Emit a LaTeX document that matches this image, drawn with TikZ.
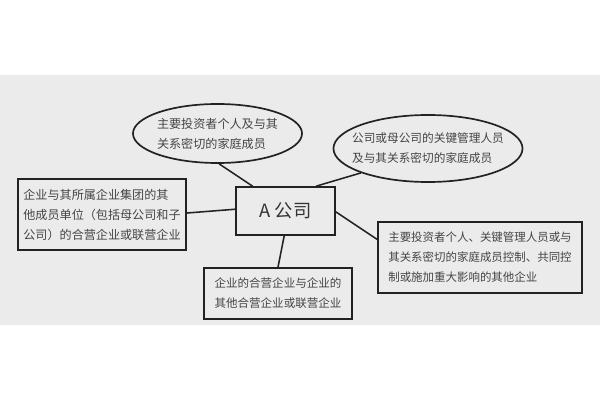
\documentclass[tikz,border=0pt]{standalone}
\usepackage{fontspec}
\usepackage{xcolor}
\usetikzlibrary{shapes.geometric}
\setmainfont{Noto Sans CJK SC}
\definecolor{bandgray}{HTML}{EBEBEB}
\definecolor{inkgray}{HTML}{444444}
\definecolor{linegray}{HTML}{222222}

\begin{document}
\begin{tikzpicture}[x=0.025cm,y=-0.025cm]
                \useasboundingbox (0,0) rectangle (600,400);
                \fill[bandgray] (0,75) rectangle (600,325);
                \begin{scope}[every node/.style={draw=linegray,line width=1.2pt,inner sep=-1cm,
                    align=left,text=inkgray,font=\fontsize{8.6}{14.2}\selectfont}]
                    \node[rectangle,minimum width=2.475cm,minimum height=1.2cm,
                        font=\fontsize{13}{14}\selectfont,text=black!80] (A) at (285.5,211) {A 公司};
                    \node[ellipse,minimum width=4.225cm,minimum height=1.475cm] (e1) at (217.5,133.5)
                        {主要投资者个人及与其\\关系密切的家庭成员};
                    \node[ellipse,minimum width=4.725cm,minimum height=1.675cm,
                        font=\fontsize{8.3}{14.2}\selectfont] (e2) at (428,148.5)
                        {公司或母公司的关键管理人员\\及与其关系密切的家庭成员};
                    \node[rectangle,minimum width=4.2cm,minimum height=1.775cm] (L) at (102,214.5)
                        {企业与其所属企业集团的其\\他成员单位（包括母公司和子\\公司）的合营企业或联营企业};
                    \node[rectangle,minimum width=5.1cm,minimum height=1.775cm,
                        font=\fontsize{8.15}{14.2}\selectfont] (R) at (480,257.5)
                        {主要投资者个人、关键管理人员或与\\其关系密切的家庭成员控制、共同控\\制或施加重大影响的其他企业};
                    \node[rectangle,minimum width=3.7cm,minimum height=1.275cm,
                        font=\fontsize{8.2}{14.2}\selectfont] (B) at (278,293.5)
                        {企业的合营企业与企业的\\其他合营企业或联营企业};
                \end{scope}
                \begin{scope}[every edge/.style={draw=linegray,line width=1.1pt}]
                    \path [-] (e1.-87) edge (A.143.6);
                    \path [-] (e2.-160.9) edge (A.39.1);
                    \path [-] (L.1) edge (A.178.8);
                    \path [-] (A.-1.2) edge (R.170.3);
                    \path [-] (A.-93.6) edge (B.90);
                \end{scope}
            \end{tikzpicture}
\end{document}
